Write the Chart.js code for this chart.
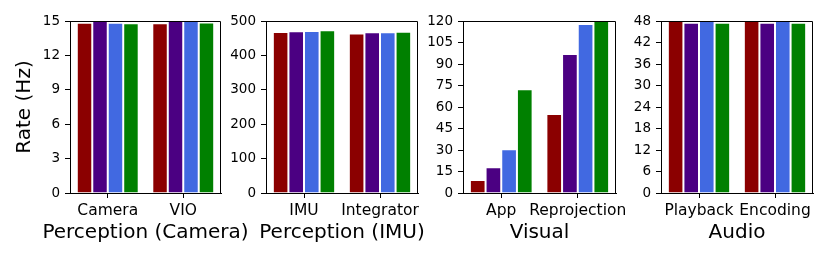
<!DOCTYPE html>
<html>
<head>
<meta charset="utf-8">
<script src="https://cdn.jsdelivr.net/npm/chart.js@4"></script>
<style>
html,body{margin:0;padding:0;background:#fff;}
#wrap{position:relative;width:830px;height:260px;background:#fff;}
#wrap canvas{position:absolute;left:0;top:0;width:830px;height:260px;}
</style>
</head>
<body>
<div id="wrap">
<canvas id="c0" width="830" height="260"></canvas>
<canvas id="c1" width="830" height="260"></canvas>
<canvas id="c2" width="830" height="260"></canvas>
<canvas id="c3" width="830" height="260"></canvas>
</div>
<script>
// ---- data ----
const yAxisTitle = 'Rate (Hz)';
const panelTitles = ['Perception (Camera)', 'Perception (IMU)', 'Visual', 'Audio'];

const cameraLabels = ['Camera', 'VIO'];
const imuLabels = ['IMU', 'Integrator'];
const visualLabels = ['App', 'Reprojection'];
const audioLabels = ['Playback', 'Encoding'];

// each series: [first category, second category]
const cameraSeries = [[14.85, 14.8], [15.0, 15.0], [14.85, 15.0], [14.8, 14.88]];
const imuSeries = [[468, 464], [470, 467], [471, 467], [473, 469]];
const visualSeries = [[9.1, 55.1], [17.9, 97], [30.5, 117.9], [72.3, 120]];
const audioSeries = [[48, 48], [47.5, 47.5], [48, 48], [47.5, 47.5]];

const cameraYTicks = [0, 3, 6, 9, 12, 15];
const imuYTicks = [0, 100, 200, 300, 400, 500];
const visualYTicks = [0, 15, 30, 45, 60, 75, 90, 105, 120];
const audioYTicks = [0, 6, 12, 18, 24, 30, 36, 42, 48];

const seriesColors = ['#8B0000', '#4B0082', '#4169E1', '#008000'];

// ---- layout ----
const W = 830;
const AREA_TOP = 21;
const TITLE_Y = 233;
const boxes = [
  {left: 70, right: 221, yAxisW: 61},
  {left: 266, right: 418, yAxisW: 50},
  {left: 463, right: 616, yAxisW: 50},
  {left: 661, right: 813, yAxisW: 50}
];

Chart.defaults.font.family = '"DejaVu Sans", sans-serif';
Chart.defaults.color = '#000';

const spinePlugin = {
  id: 'spines',
  afterDraw(chart, args, opts) {
    const {ctx, chartArea: a} = chart;
    ctx.save();
    ctx.strokeStyle = '#000';
    ctx.lineWidth = 1;
    const t = Math.round(a.top) + 0.5;
    const r = Math.round(a.right) - 0.5;
    const b = Math.round(a.bottom) + 0.5;
    ctx.beginPath();
    ctx.moveTo(Math.round(a.left), t);
    ctx.lineTo(r, t);
    ctx.lineTo(r, b);
    ctx.stroke();
    // panel (x-axis) title, unconstrained width
    if (opts && opts.text) {
      ctx.fillStyle = '#000';
      ctx.font = '20px "DejaVu Sans", sans-serif';
      ctx.textAlign = 'center';
      ctx.textBaseline = 'middle';
      ctx.fillText(opts.text, (a.left + a.right) / 2, TITLE_Y);
    }
    ctx.restore();
  }
};

function makePanel(id, labels, series, yTicks, title, box, yTitle) {
  const max = yTicks[yTicks.length - 1];
  const step = yTicks[1] - yTicks[0];
  new Chart(document.getElementById(id), {
    type: 'bar',
    data: {
      labels: labels,
      datasets: series.map((v, i) => ({
        data: v,
        backgroundColor: seriesColors[i],
        borderColor: '#ffffff',
        borderWidth: 1,
        borderSkipped: 'start',
        categoryPercentage: 0.82,
        barPercentage: 1.0
      }))
    },
    options: {
      responsive: false,
      animation: false,
      events: [],
      layout: {padding: {left: box.left - box.yAxisW, right: W - box.right, top: AREA_TOP, bottom: 11}},
      plugins: {legend: {display: false}, tooltip: {enabled: false}, spines: {text: title}},
      scales: {
        x: {
          grid: {offset: false, drawOnChartArea: false, drawTicks: true, tickLength: 5, color: '#000', lineWidth: 1},
          border: {display: true, color: '#000', width: 1, z: 1},
          ticks: {font: {size: 15.5}, padding: 3.5, color: '#000', autoSkip: false, maxRotation: 0},
          title: {display: false},
          afterFit: s => { s.height = 56; }
        },
        y: {
          min: 0,
          max: max,
          ticks: {stepSize: step, font: {size: 13.5}, padding: 5, color: '#000', autoSkip: false},
          grid: {drawOnChartArea: false, drawTicks: true, tickLength: 5, color: '#000', lineWidth: 1},
          border: {display: true, color: '#000', width: 1, z: 1},
          title: yTitle ? {display: true, text: yTitle, font: {size: 20}, padding: {top: 4, bottom: 4}, color: '#000'} : {display: false},
          afterFit: s => { s.width = box.yAxisW; }
        }
      }
    },
    plugins: [spinePlugin]
  });
}

makePanel('c0', cameraLabels, cameraSeries, cameraYTicks, panelTitles[0], boxes[0], yAxisTitle);
makePanel('c1', imuLabels, imuSeries, imuYTicks, panelTitles[1], boxes[1], null);
makePanel('c2', visualLabels, visualSeries, visualYTicks, panelTitles[2], boxes[2], null);
makePanel('c3', audioLabels, audioSeries, audioYTicks, panelTitles[3], boxes[3], null);
</script>
</body>
</html>
